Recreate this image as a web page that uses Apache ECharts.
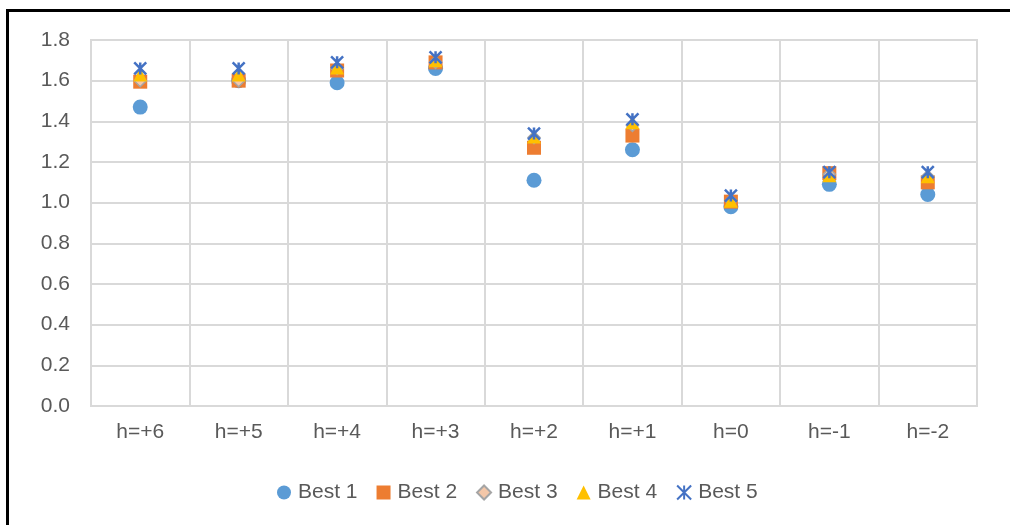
<!DOCTYPE html>
<html>
<head>
<meta charset="utf-8">
<script src="https://cdn.jsdelivr.net/npm/echarts@6/dist/echarts.min.js"></script>
<style>
html,body{margin:0;padding:0;background:#fff;}
#chart{width:1010px;height:525px;}
</style>
</head>
<body>
<div id="chart"></div>
<script>
const categories = ['h=+6','h=+5','h=+4','h=+3','h=+2','h=+1','h=0','h=-1','h=-2'];
const best1 = [1.47, 1.60, 1.59, 1.66, 1.11, 1.26, 0.98, 1.09, 1.04];
const best2 = [1.595, 1.60, 1.65, 1.69, 1.27, 1.33, 1.005, 1.145, 1.10];
const best3 = [1.60, 1.60, 1.66, 1.69, 1.32, 1.38, 1.01, 1.14, 1.13];
const best4 = [1.63, 1.63, 1.665, 1.70, 1.325, 1.395, 1.01, 1.135, 1.13];
const best5 = [1.66, 1.66, 1.69, 1.715, 1.34, 1.41, 1.035, 1.15, 1.15];
const yTicks = {min: 0, max: 1.8, interval: 0.2};

const font = 'Liberation Sans';
const txt = '#595959';
const gridCol = '#d9d9d9';
const starPath = 'path://M0,0L10,10M10,0L0,10M5,0L5,10';

const chart = echarts.init(document.getElementById('chart'));
chart.setOption({
  animation: false,
  backgroundColor: '#fff',
  grid: {left: 91, right: 33, top: 40, bottom: 119, show: true, borderColor: gridCol, borderWidth: 2},
  xAxis: {
    type: 'category', data: categories, boundaryGap: true,
    axisLine: {show: true, lineStyle: {color: gridCol, width: 2}},
    axisTick: {show: false},
    splitLine: {show: true, interval: 0, lineStyle: {color: gridCol, width: 2}},
    axisLabel: {color: txt, fontSize: 21, fontFamily: font, margin: 16, interval: 0}
  },
  yAxis: {
    type: 'value', min: yTicks.min, max: yTicks.max, interval: yTicks.interval,
    axisLine: {show: false}, axisTick: {show: false},
    splitLine: {lineStyle: {color: gridCol, width: 2}},
    axisLabel: {color: txt, fontSize: 21, fontFamily: font, margin: 21,
      formatter: v => v.toFixed(1)}
  },
  legend: {
    left: 272, top: 477, itemWidth: 14, itemHeight: 14, itemGap: 19,
    textStyle: {color: txt, fontSize: 21, fontFamily: font, padding: [0, 0, 0, 2]},
    data: [
      {name: 'Best 1', icon: 'circle'},
      {name: 'Best 2', icon: 'rect'},
      {name: 'Best 3', icon: 'diamond'},
      {name: 'Best 4', icon: 'triangle'},
      {name: 'Best 5', icon: starPath}
    ]
  },
  graphic: [{
    type: 'rect', silent: true, z: 100,
    shape: {x: 7.5, y: 10.5, width: 1100, height: 600},
    style: {fill: 'none', stroke: '#000', lineWidth: 3}
  }],
  series: [
    {name: 'Best 1', type: 'scatter', data: best1, symbol: 'circle', symbolSize: 15,
      itemStyle: {color: '#5B9BD5', opacity: 1}},
    {name: 'Best 2', type: 'scatter', data: best2, symbol: 'rect', symbolSize: 14,
      itemStyle: {color: '#ED7D31', opacity: 1}},
    {name: 'Best 3', type: 'scatter', data: best3, symbol: 'diamond', symbolSize: 12,
      itemStyle: {color: '#F4C7A8', borderColor: '#A5A5A5', borderWidth: 1.5, opacity: 1}},
    {name: 'Best 4', type: 'scatter', data: best4, symbol: 'triangle', symbolSize: 14,
      itemStyle: {color: '#FFC000', opacity: 1}},
    {name: 'Best 5', type: 'scatter', data: best5, symbol: starPath, symbolSize: 12,
      itemStyle: {color: '#4472C4', borderColor: '#4472C4', borderWidth: 2.5, opacity: 1}}
  ]
});
</script>
</body>
</html>
